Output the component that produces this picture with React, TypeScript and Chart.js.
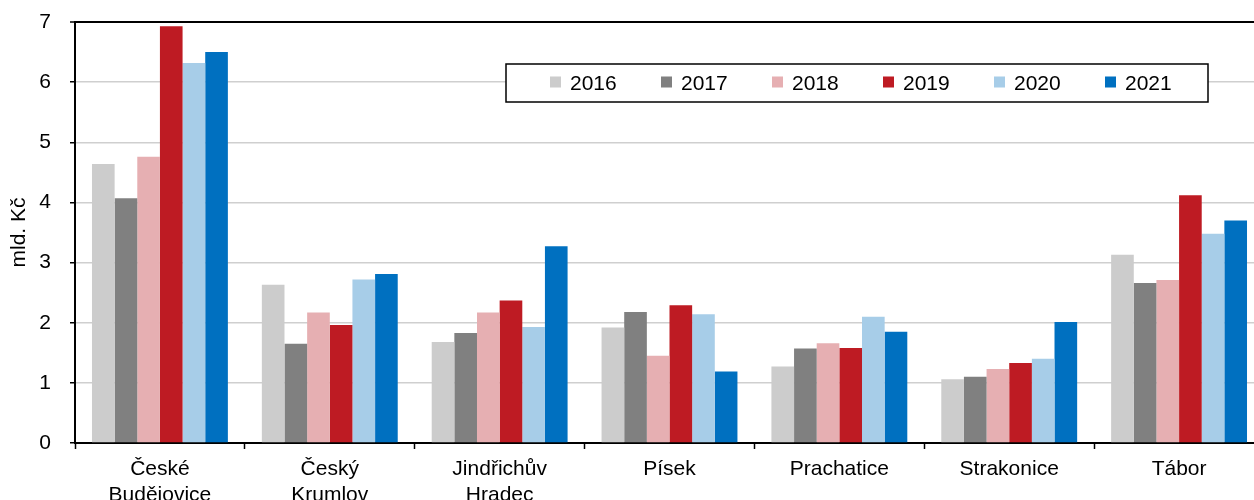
import React, { useEffect, useRef } from "react";
import { Chart, registerables } from "chart.js";

Chart.register(...registerables);

const categories: (string | string[])[] = [
  ["České", "Budějovice"],
  ["Český", "Krumlov"],
  ["Jindřichův", "Hradec"],
  "Písek",
  "Prachatice",
  "Strakonice",
  "Tábor",
];

const years = ["2016", "2017", "2018", "2019", "2020", "2021"];

const v2016 = [4.64, 2.63, 1.68, 1.92, 1.27, 1.06, 3.13];
const v2017 = [4.07, 1.65, 1.83, 2.18, 1.57, 1.10, 2.66];
const v2018 = [4.76, 2.17, 2.17, 1.45, 1.66, 1.23, 2.71];
const v2019 = [6.93, 1.96, 2.37, 2.29, 1.58, 1.33, 4.12];
const v2020 = [6.32, 2.72, 1.93, 2.14, 2.10, 1.40, 3.48];
const v2021 = [6.50, 2.81, 3.27, 1.19, 1.85, 2.01, 3.70];

const yTicks = [0, 1, 2, 3, 4, 5, 6, 7];

const seriesValues = [v2016, v2017, v2018, v2019, v2020, v2021];
const colors = ["#cccccc", "#808080", "#e6afb2", "#be1b23", "#a7cde8", "#0070c0"];

const FONT = "'Liberation Sans', Arial, sans-serif";

const legendPlugin = {
  id: "boxLegend",
  afterDatasetsDraw(chart: any) {
    const ctx = chart.ctx as CanvasRenderingContext2D;
    const x0 = 506, y0 = 64, w = 702, h = 38;
    ctx.save();
    ctx.fillStyle = "#ffffff";
    ctx.fillRect(x0, y0, w, h);
    ctx.strokeStyle = "#000000";
    ctx.lineWidth = 1.5;
    ctx.strokeRect(x0, y0, w, h);
    ctx.font = `21px ${FONT}`;
    ctx.textBaseline = "middle";
    ctx.textAlign = "left";
    const cy = y0 + h / 2;
    let x = x0 + 44;
    chart.data.datasets.forEach((ds: any) => {
      ctx.fillStyle = ds.backgroundColor;
      ctx.fillRect(x, cy - 6.5, 11, 11);
      ctx.fillStyle = "#000000";
      ctx.fillText(ds.label, x + 20, cy + 1);
      x += 111;
    });
    ctx.restore();
  },
};

export default function App() {
  const ref = useRef<HTMLCanvasElement | null>(null);

  useEffect(() => {
    if (!ref.current) return;
    const chart = new Chart(ref.current, {
      type: "bar",
      data: {
        labels: categories,
        datasets: years.map((y, i) => ({
          label: y,
          data: seriesValues[i],
          backgroundColor: colors[i],
          borderWidth: 0,
          categoryPercentage: 0.8,
          barPercentage: 1.0,
        })),
      },
      options: {
        responsive: false,
        animation: false,
        devicePixelRatio: 1,
        layout: { padding: { left: 0, top: 22, right: 6, bottom: 0 } },
        plugins: {
          legend: { display: false },
          tooltip: { enabled: false },
        },
        scales: {
          x: {
            grid: {
              drawOnChartArea: false,
              drawTicks: true,
              tickLength: 6,
              tickColor: "#000000",
              tickWidth: 1.5,
              offset: true,
            },
            border: { display: true, color: "#000000", width: 2 },
            ticks: {
              color: "#000000",
              font: { family: FONT, size: 21, lineHeight: 1.2 },
              padding: 8,
              maxRotation: 0,
              autoSkip: false,
            },
            afterFit(scale: any) {
              scale.height = 57;
            },
          },
          y: {
            min: 0,
            max: 7,
            afterBuildTicks(scale: any) {
              scale.ticks = yTicks.map((v) => ({ value: v }));
            },
            grid: {
              color: (c: any) => (c.tick && c.tick.value === 7 ? "#000000" : "#cfcfcf"),
              lineWidth: (c: any) => (c.tick && c.tick.value === 7 ? 2 : 1.5),
              drawTicks: true,
              tickLength: 5,
              tickColor: "#000000",
              tickWidth: 1.5,
            },
            border: { display: true, color: "#000000", width: 2 },
            ticks: {
              color: "#000000",
              font: { family: FONT, size: 21 },
              padding: 19,
            },
            title: {
              display: true,
              text: "mld. Kč",
              color: "#000000",
              font: { family: FONT, size: 21 },
              padding: { top: 7, bottom: 0 },
            },
            afterFit(scale: any) {
              scale.width = 75;
              scale.paddingTop = 0;
              scale.paddingBottom = 0;
            },
          },
        },
      },
      plugins: [legendPlugin],
    });
    return () => chart.destroy();
  }, []);

  return (
    <div
      style={{
        position: "fixed",
        left: 0,
        top: 0,
        width: 1254,
        height: 500,
        overflow: "hidden",
        background: "#ffffff",
      }}
    >
      <canvas ref={ref} width={1270} height={500} style={{ display: "block" }} />
    </div>
  );
}
